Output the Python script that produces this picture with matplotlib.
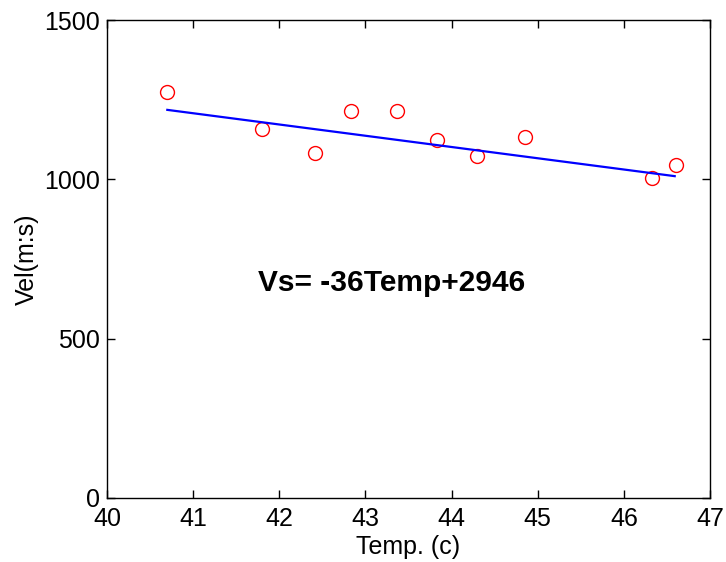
import matplotlib
matplotlib.use("Agg")
import matplotlib.pyplot as plt

plt.rcParams['font.family'] = ['Liberation Sans', 'DejaVu Sans']

# measured points
temp = [40.70, 41.80, 42.41, 42.83, 43.37, 43.83, 44.29, 44.85, 46.33, 46.60]
vel = [1273, 1158, 1084, 1215, 1215, 1123, 1074, 1132, 1003, 1044]

# fitted line ends
fit_x = [40.70, 46.59]
fit_y = [1218, 1010]

fig = plt.figure(figsize=(7.26, 5.62), dpi=100)
ax = fig.add_axes([0.1474, 0.1139, 0.8306, 0.8505])

ax.plot(temp, vel, 'o', mfc='none', mec='red', ms=10, mew=1)
ax.plot(fit_x, fit_y, '-', color='blue', lw=1.6)

ax.set_xlim(40, 47)
ax.set_ylim(0, 1500)
ax.set_xticks(range(40, 48))
ax.set_yticks([0, 500, 1000, 1500])
ax.tick_params(direction='in', length=6, width=1, labelsize=18,
               top=True, right=True)
ax.tick_params(axis='x', pad=6.5)
ax.tick_params(axis='y', pad=5)
for s in ax.spines.values():
    s.set_linewidth(1)

ax.set_xlabel('Temp. (c)', fontsize=18, labelpad=3)
ax.set_ylabel('Vel(m:s)', fontsize=18, labelpad=4)

ax.text(43.3, 675, 'Vs= -36Temp+2946', fontsize=21.5, fontweight='bold',
        ha='center', va='center')

fig.savefig('out.png', dpi=100)
